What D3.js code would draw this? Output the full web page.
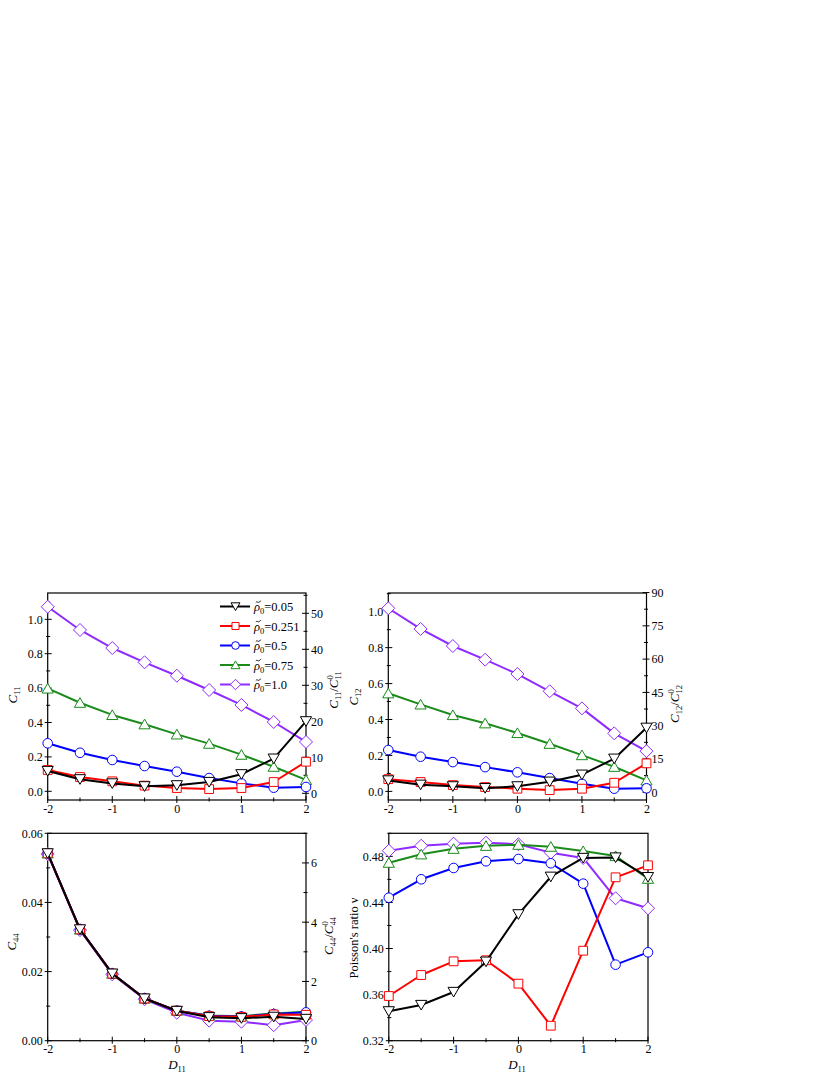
<!DOCTYPE html>
<html><head><meta charset="utf-8">
<script src="https://cdn.jsdelivr.net/npm/d3@7"></script>
<style>body{margin:0;background:#fff}svg{display:block}</style>
</head><body><svg id="c" width="830" height="1075" style="font-family:'Liberation Serif','Times New Roman',serif"></svg>
<script>
const D11 = [-2,-1.5,-1,-0.5,0,0.5,1,1.5,2];
const rhoLabels = ["0.05","0.251","0.5","0.75","1.0"];
const seriesColors = ["#000000","#ff0000","#0000ff","#1a8a1a","#8f2bff"];
const seriesShapes = ["down","square","circle","up","diamond"];

const C11 = [
  [0.118,0.070,0.046,0.029,0.035,0.054,0.099,0.190,0.407],
  [0.124,0.083,0.058,0.033,0.019,0.013,0.019,0.054,0.172],
  [0.279,0.224,0.182,0.147,0.114,0.077,0.046,0.021,0.025],
  [0.598,0.515,0.444,0.390,0.331,0.277,0.213,0.143,0.066],
  [1.073,0.938,0.833,0.750,0.672,0.589,0.502,0.403,0.287]
];
const C12 = [
  [0.061,0.037,0.028,0.018,0.028,0.054,0.093,0.182,0.354],
  [0.068,0.052,0.035,0.024,0.015,0.007,0.015,0.048,0.156],
  [0.230,0.193,0.163,0.135,0.106,0.074,0.042,0.015,0.017],
  [0.546,0.484,0.425,0.379,0.325,0.265,0.202,0.137,0.061],
  [1.019,0.904,0.809,0.733,0.653,0.557,0.462,0.323,0.224]
];
const C44 = [
  [0.0542,0.0322,0.0194,0.0122,0.0086,0.0068,0.0065,0.0069,0.0063],
  [0.0542,0.0322,0.0194,0.0122,0.0087,0.0071,0.0069,0.0076,0.0075],
  [0.0542,0.0322,0.0194,0.0122,0.0087,0.0072,0.0070,0.0077,0.0082],
  [0.0542,0.0322,0.0194,0.0122,0.0087,0.0073,0.0071,0.0079,0.0084],
  [0.0540,0.0320,0.0192,0.0120,0.0081,0.0058,0.0055,0.0045,0.0060]
];
const POISSON = [
  [0.3455,0.3510,0.3623,0.3886,0.4297,0.4623,0.4786,0.4790,0.4620],
  [0.3588,0.3770,0.3889,0.3898,0.3695,0.3330,0.3981,0.4618,0.4722],
  [0.4441,0.4601,0.4699,0.4757,0.4777,0.4740,0.4563,0.3860,0.3967],
  [0.4745,0.4818,0.4866,0.4892,0.4901,0.4884,0.4846,0.4803,0.4606],
  [0.4849,0.4892,0.4910,0.4918,0.4905,0.4832,0.4786,0.4436,0.4349]
];
const xTicks = [-2,-1,0,1,2];
const c11Ticks = [0.0,0.2,0.4,0.6,0.8,1.0];
const c11RTicks = [0,10,20,30,40,50];
const c12Ticks = [0.0,0.2,0.4,0.6,0.8,1.0];
const c12RTicks = [0,15,30,45,60,75,90];
const c44Ticks = [0.00,0.02,0.04,0.06];
const c44RTicks = [0,2,4,6];
const nuTicks = [0.32,0.36,0.40,0.44,0.48];

const FONT = "'Liberation Serif','Times New Roman',serif";
const svg = d3.select("#c");
const FS = 12;
const LFS = 13;
const hy = f => (d => f(d).replace("\u2212","-"));

function markerPath(shape, s) {
  switch (shape) {
    case "down": { const w=5.6*s, h=4.6*s; return `M${-w},${-h}L${w},${-h}L0,${h*1.1}Z`; }
    case "up": { const w=5.6*s, h=4.6*s; return `M${-w},${h}L${w},${h}L0,${-h*1.1}Z`; }
    case "square": { const a=4.4*s; return `M${-a},${-a}H${a}V${a}H${-a}Z`; }
    case "diamond": { const a=6.5*s; return `M0,${-a}L${a},0L0,${a}L${-a},0Z`; }
    case "circle": { const r=4.8*s; return `M${r},0A${r},${r} 0 1,1 ${-r},0A${r},${r} 0 1,1 ${r},0Z`; }
  }
}

function axisLabel(g, x, y, rot, size, parts) {
  const t = g.append("text").attr("transform", `translate(${x},${y}) rotate(${rot})`)
    .attr("text-anchor","middle").style("font-size", size+"px").style("font-family",FONT);
  parts(t);
}
function cSub(t, sub) {
  t.append("tspan").attr("font-style","italic").text("C");
  t.append("tspan").attr("font-size","8.5px").attr("dy",3).text(sub);
}
function ratioLabel(t, sub) {
  t.append("tspan").attr("font-style","italic").text("C");
  t.append("tspan").attr("font-size","8.5px").attr("dy",3).text(sub);
  t.append("tspan").attr("dy",-3).text("/");
  t.append("tspan").attr("font-style","italic").text("C");
  t.append("tspan").attr("font-size","8.5px").attr("dy",-5.5).text("0");
  t.append("tspan").attr("font-size","8.5px").attr("dy",8.5).attr("dx",-4.3).text(sub);
}
function cSubD(t){ t.append("tspan").attr("font-style","italic").text("D"); t.append("tspan").attr("font-size","8.5px").attr("dy",3).text("11"); }

function styleTicks(sel){
  sel.attr("font-family",null).attr("font-size",null);
  sel.selectAll("text").style("font-size",FS+"px").style("font-family",FONT).attr("fill","#000");
}

function panel(cfg) {
  const g = svg.append("g");
  const x = d3.scaleLinear().domain([-2,2]).range([cfg.x0, cfg.x1]);
  const y = d3.scaleLinear().domain(cfg.yDom).range([cfg.y1, cfg.y0]);
  g.append("rect").attr("x",cfg.x0).attr("y",cfg.y0).attr("width",cfg.x1-cfg.x0).attr("height",cfg.y1-cfg.y0)
    .attr("fill","none").attr("stroke","#000").attr("stroke-width",1.2);
  const xa = g.append("g").attr("transform",`translate(0,${cfg.y1})`)
    .call(d3.axisBottom(x).tickValues(xTicks).tickFormat(hy(d3.format("d"))).tickSize(0).tickPadding(4));
  xa.select(".domain").remove();
  styleTicks(xa);
  d3.range(-2,2.01,0.5).forEach(v => {
    const major = Number.isInteger(v);
    g.append("line").attr("x1",x(v)).attr("x2",x(v)).attr("y1",cfg.y1-(major?4:2.5)).attr("y2",cfg.y1+(major?3:1.5))
      .attr("stroke","#000").attr("stroke-width",1);
  });
  const ya = g.append("g").attr("transform",`translate(${cfg.x0},0)`)
    .call(d3.axisLeft(y).tickValues(cfg.yTicks).tickFormat(cfg.yFmt).tickSize(0).tickPadding(5));
  ya.select(".domain").remove();
  styleTicks(ya);
  cfg.yMinor.forEach(v => {
    const major = cfg.yTicks.some(t => Math.abs(t-v)<1e-9);
    g.append("line").attr("x1",cfg.x0-(major?3:1.5)).attr("x2",cfg.x0+(major?4:2.5)).attr("y1",y(v)).attr("y2",y(v))
      .attr("stroke","#000").attr("stroke-width",1);
  });
  if (cfg.rDom) {
    const yr = d3.scaleLinear().domain(cfg.rDom).range([cfg.y1, cfg.y0]);
    const ra = g.append("g").attr("transform",`translate(${cfg.x1},0)`)
      .call(d3.axisRight(yr).tickValues(cfg.rTicks).tickFormat(d3.format("d")).tickSize(0).tickPadding(5));
    ra.select(".domain").remove();
    styleTicks(ra);
    cfg.rMinor.forEach(v => {
      const major = cfg.rTicks.some(t => Math.abs(t-v)<1e-9);
      g.append("line").attr("x1",cfg.x1-(major?4:2.5)).attr("x2",cfg.x1+(major?3:1.5)).attr("y1",yr(v)).attr("y2",yr(v))
        .attr("stroke","#000").attr("stroke-width",1);
    });
  }
  const line = d3.line().x((d,i)=>x(D11[i])).y(d=>y(d));
  for (let s = cfg.data.length-1; s >= 0; s--) {
    const vals = cfg.data[s];
    g.append("path").attr("d", line(vals)).attr("fill","none")
      .attr("stroke", seriesColors[s]).attr("stroke-width",2).attr("stroke-linejoin","round");
    g.selectAll(null).data(vals).enter().append("path")
      .attr("transform",(d,i)=>`translate(${x(D11[i])},${y(d)})`)
      .attr("d", markerPath(seriesShapes[s],1))
      .attr("fill","#fff").attr("stroke", seriesColors[s]).attr("stroke-width",1);
  }
  return {g, x, y};
}

panel({x0:47.7,x1:306,y0:593,y1:800,yDom:[-0.0506,1.153],yTicks:c11Ticks,yFmt:d3.format(".1f"),
  yMinor:d3.range(0,1.101,0.1),rDom:[-1.86,55.64],rTicks:c11RTicks,rMinor:d3.range(0,55.1,5),data:C11});
axisLabel(svg, 17, 695, -90, LFS, t => cSub(t,"11"));
axisLabel(svg, 338, 690, -90, LFS, t => ratioLabel(t,"11"));

panel({x0:388.3,x1:646.5,y0:593,y1:800,yDom:[-0.048,1.104],yTicks:c12Ticks,yFmt:d3.format(".1f"),
  yMinor:d3.range(0,1.101,0.1),rDom:[-3.5,89.8],rTicks:c12RTicks,rMinor:d3.range(0,90.1,7.5),data:C12});
axisLabel(svg, 358, 697, -90, LFS, t => cSub(t,"12"));
axisLabel(svg, 679, 704, -90, LFS, t => ratioLabel(t,"12"));

panel({x0:47.7,x1:306,y0:833.3,y1:1040.7,yDom:[0,0.06],yTicks:c44Ticks,yFmt:d3.format(".2f"),
  yMinor:d3.range(0,0.0601,0.01),rDom:[0,7],rTicks:c44RTicks,rMinor:d3.range(0,7.01,1),data:C44});
axisLabel(svg, 16, 942, -90, LFS, t => cSub(t,"44"));
axisLabel(svg, 333, 936, -90, LFS, t => ratioLabel(t,"44"));
axisLabel(svg, 177, 1069, 0, LFS, t => cSubD(t));

panel({x0:388.8,x1:648,y0:833.3,y1:1040.7,yDom:[0.32,0.50],yTicks:nuTicks,yFmt:d3.format(".2f"),
  yMinor:d3.range(0.32,0.5001,0.02),data:POISSON});
axisLabel(svg, 358, 938, -90, 12.5, t => { t.text("Poisson's ratio  \u03bd"); });
axisLabel(svg, 517, 1069, 0, LFS, t => cSubD(t));

const lg = svg.append("g");
rhoLabels.forEach((lab, i) => {
  const yy = 606.5 + i*19.5;
  lg.append("line").attr("x1",220).attr("x2",250).attr("y1",yy).attr("y2",yy)
    .attr("stroke",seriesColors[i]).attr("stroke-width",2);
  lg.append("path").attr("transform",`translate(235.5,${yy})`).attr("d",markerPath(seriesShapes[i],0.8))
    .attr("fill","#fff").attr("stroke",seriesColors[i]).attr("stroke-width",1);
  const t = lg.append("text").attr("x",254).attr("y",yy+4.5).style("font-size","12.5px").style("font-family",FONT);
  t.append("tspan").attr("font-style","italic").text("\u03c1");
  t.append("tspan").attr("font-size","8.5px").attr("dy",3).text("0");
  t.append("tspan").attr("dy",-3).text("=" + lab);
  const tx = 255.8, ty = yy - 4.8;
  lg.append("path").attr("d",`M${tx},${ty+0.8}C${tx+1.2},${ty-1.4} ${tx+2.6},${ty+2.2} ${tx+4},${ty} C${tx+4.4},${ty-0.6} ${tx+4.8},${ty-0.9} ${tx+5.3},${ty-0.9}`)
    .attr("fill","none").attr("stroke","#000").attr("stroke-width",0.85);
});
</script></body></html>
